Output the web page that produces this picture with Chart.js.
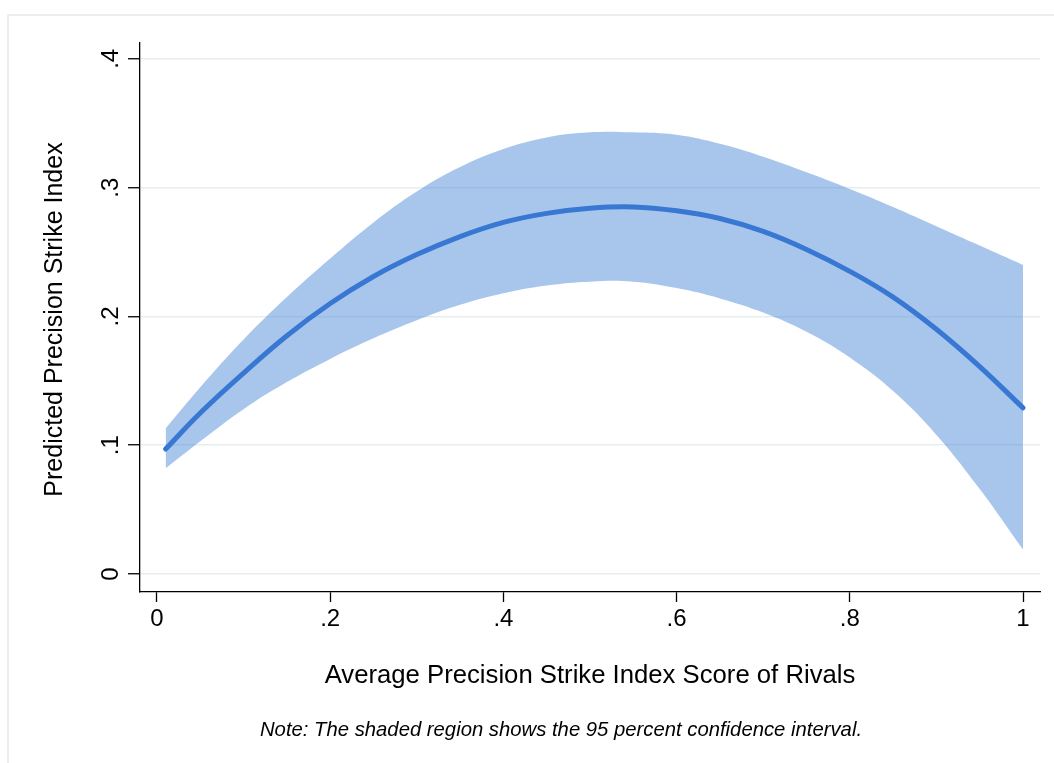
<!DOCTYPE html>
<html>
<head>
<meta charset="utf-8">
<script src="https://cdn.jsdelivr.net/npm/chart.js@4.4.1/dist/chart.umd.min.js"></script>
<style>
  html, body { margin: 0; padding: 0; background: #ffffff; }
  #wrap { width: 1054px; height: 763px; }
</style>
</head>
<body>
<div id="wrap"><canvas id="c" width="1054" height="763"></canvas></div>
<script>
// ---- data ----
const xValues   = [0.01, 0.05, 0.10, 0.15, 0.20, 0.25, 0.30, 0.35, 0.40, 0.45, 0.50, 0.55, 0.60, 0.65, 0.70, 0.75, 0.80, 0.85, 0.90, 0.95, 1.00];
const predicted = [0.097, 0.125, 0.156, 0.185, 0.210, 0.231, 0.248, 0.262, 0.273, 0.280, 0.284, 0.285, 0.282, 0.276, 0.266, 0.252, 0.235, 0.215, 0.190, 0.161, 0.129];
const upperCI   = [0.113, 0.145, 0.182, 0.215, 0.245, 0.273, 0.297, 0.316, 0.330, 0.339, 0.343, 0.343, 0.341, 0.334, 0.324, 0.312, 0.299, 0.285, 0.270, 0.255, 0.240];
const lowerCI   = [0.082, 0.103, 0.128, 0.149, 0.167, 0.183, 0.197, 0.209, 0.218, 0.224, 0.227, 0.227, 0.222, 0.214, 0.203, 0.188, 0.168, 0.142, 0.108, 0.066, 0.019];

const xTickValues = [0, 0.2, 0.4, 0.6, 0.8, 1];
const xTickLabels = ['0', '.2', '.4', '.6', '.8', '1'];
const yTickValues = [0, 0.1, 0.2, 0.3, 0.4];
const yTickLabels = ['0', '.1', '.2', '.3', '.4'];

const xTitle = 'Average Precision Strike Index Score of Rivals';
const yTitle = 'Predicted Precision Strike Index';
const noteText = 'Note: The shaded region shows the 95 percent confidence interval.';

const FONT = '"Liberation Sans", Arial, Helvetica, sans-serif';

const pts = (ys) => xValues.map((x, i) => ({ x: x, y: ys[i] }));

const textPlugin = {
  id: 'stataText',
  beforeDraw(chart) {
    const ctx = chart.ctx;
    ctx.save();
    ctx.fillStyle = '#ffffff';
    ctx.fillRect(0, 0, chart.width, chart.height);
    // outer frame (top & left edges visible)
    ctx.strokeStyle = '#e6e8e9';
    ctx.lineWidth = 1.5;
    ctx.beginPath();
    ctx.moveTo(8, chart.height);
    ctx.lineTo(8, 15);
    ctx.lineTo(chart.width, 15);
    ctx.stroke();
    ctx.restore();
  },
  afterDraw(chart) {
    const ctx = chart.ctx;
    const ys = chart.scales.y;
    const area = chart.chartArea;
    ctx.save();
    ctx.fillStyle = '#000000';
    // y tick labels, rotated like Stata
    ctx.font = '24px ' + FONT;
    ctx.textAlign = 'center';
    ctx.textBaseline = 'alphabetic';
    yTickValues.forEach((v, i) => {
      const py = ys.getPixelForValue(v);
      ctx.save();
      ctx.translate(118, py);
      ctx.rotate(-Math.PI / 2);
      ctx.fillText(yTickLabels[i], 0, 0);
      ctx.restore();
    });
    // y axis title
    ctx.save();
    ctx.translate(62, (area.top + area.bottom) / 2 + 2);
    ctx.rotate(-Math.PI / 2);
    ctx.font = '25px ' + FONT;
    ctx.fillText(yTitle, 0, 0);
    ctx.restore();
    // x axis title
    ctx.font = '25.7px ' + FONT;
    ctx.fillText(xTitle, (area.left + area.right) / 2, 683);
    // note
    ctx.font = 'italic 20.3px ' + FONT;
    ctx.fillText(noteText, 561, 736);
    ctx.restore();
  }
};

new Chart(document.getElementById('c'), {
  type: 'line',
  data: {
    datasets: [
      {
        label: 'lower',
        data: pts(lowerCI),
        borderWidth: 0,
        borderColor: 'rgba(0,0,0,0)',
        pointRadius: 0,
        fill: false,
        tension: 0.4
      },
      {
        label: '95% CI',
        data: pts(upperCI),
        borderWidth: 0,
        borderColor: 'rgba(0,0,0,0)',
        backgroundColor: 'rgba(62,128,213,0.45)',
        pointRadius: 0,
        fill: '-1',
        tension: 0.4
      },
      {
        label: 'Predicted',
        data: pts(predicted),
        borderWidth: 5,
        borderColor: '#3372d2',
        borderCapStyle: 'round',
        borderJoinStyle: 'round',
        pointRadius: 0,
        fill: false,
        tension: 0.4
      }
    ]
  },
  options: {
    responsive: false,
    animation: false,
    devicePixelRatio: 1,
    layout: { padding: { top: 43, right: 14, left: 0, bottom: 0 } },
    plugins: { legend: { display: false }, tooltip: { enabled: false } },
    scales: {
      x: {
        type: 'linear',
        min: -0.0196,
        max: 1.0196,
        afterBuildTicks: (s) => { s.ticks = xTickValues.map(v => ({ value: v })); },
        afterFit: (s) => { s.height = 171; },
        ticks: {
          callback: (v) => xTickLabels[xTickValues.indexOf(v)],
          font: { size: 24, family: FONT },
          color: '#000000',
          padding: 3,
          maxRotation: 0,
          autoSkip: false
        },
        grid: { drawOnChartArea: false, drawTicks: true, tickLength: 10, tickColor: '#000000', tickWidth: 1.3 },
        border: { display: true, color: '#000000', width: 1.3 }
      },
      y: {
        type: 'linear',
        min: -0.014,
        max: 0.4123,
        afterBuildTicks: (s) => { s.ticks = yTickValues.map(v => ({ value: v })); },
        afterFit: (s) => { s.width = 140; },
        ticks: { display: true, color: 'rgba(0,0,0,0)', font: { size: 24, family: FONT } },
        grid: { color: '#e8eef0', lineWidth: 1.5, drawTicks: true, tickLength: 12, tickColor: '#000000', tickWidth: 1.3 },
        border: { display: true, color: '#000000', width: 1.3 }
      }
    }
  },
  plugins: [textPlugin]
});
</script>
</body>
</html>
